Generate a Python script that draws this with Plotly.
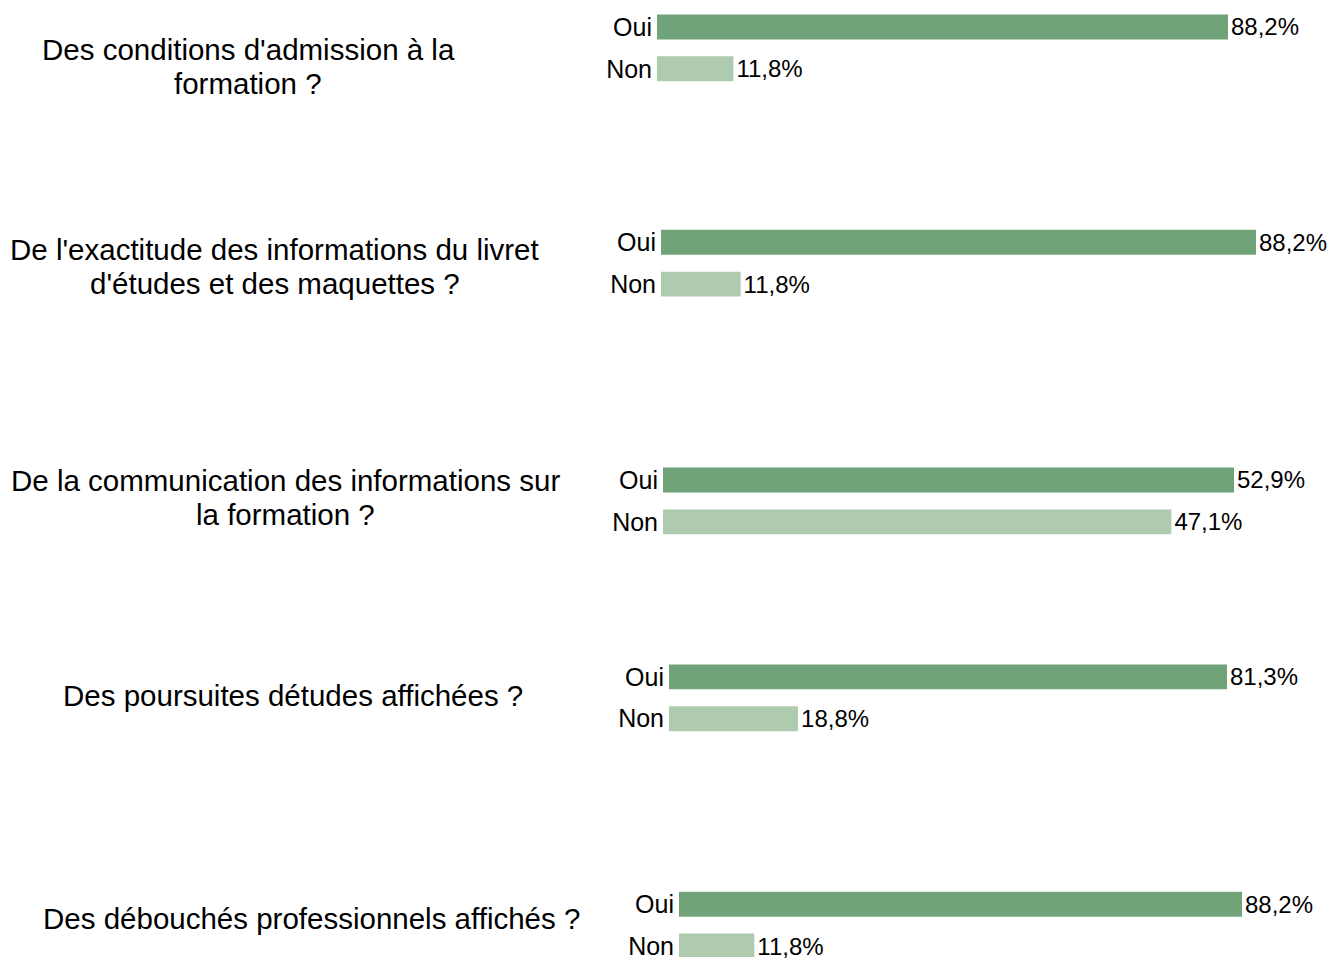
import plotly.graph_objects as go

# ---- data ----
questions = [
    ["Des conditions d'admission à la", "formation ?"],
    ["De l'exactitude des informations du livret", "d'études et des maquettes ?"],
    ["De la communication des informations sur", "la formation ?"],
    ["Des poursuites détudes affichées ?"],
    ["Des débouchés professionnels affichés ?"],
]
categories = ["Oui", "Non"]
oui = [88.2, 88.2, 52.9, 81.3, 88.2]
non = [11.8, 11.8, 47.1, 18.8, 11.8]

# ---- layout (pixels, page coordinates) ----
W, H = 1329, 960
bar_start_px = [657, 661, 663, 669, 679]
bar_end_px = [1228, 1256, 1234, 1227, 1242]
oui_center_px = [27, 243, 481.5, 679, 907]
row_gap = 42
bar_h = 25
q_center_x = [248, 274.5, 285, 292.5, 311]
q_line_y = [[50, 84], [250, 284], [482, 516], [698], [921]]

dark = "#70A478"
light = "#AFCBAF"
FONT = "Liberation Sans, Arial, sans-serif"

def fmt(v):
    return f"{v:.1f}".replace(".", ",") + "%"

fig = go.Figure()
layout = dict(
    width=W, height=H, margin=dict(l=0, r=0, t=0, b=0),
    paper_bgcolor="white", plot_bgcolor="white", showlegend=False,
    font=dict(family=FONT, color="#000000"),
)
annotations = []
for i in range(5):
    vals = [oui[i], non[i]]
    xa = "x" if i == 0 else f"x{i+1}"
    ya = "y" if i == 0 else f"y{i+1}"
    fig.add_trace(go.Bar(
        x=vals, y=categories, orientation="h",
        marker=dict(color=[dark, light], line=dict(width=0)),
        text=[fmt(v) for v in vals], textposition="outside",
        textfont=dict(size=24, family=FONT, color="#000000"),
        constraintext="none",
        cliponaxis=False, xaxis=xa, yaxis=ya, hoverinfo="skip",
        width=bar_h / row_gap,
    ))
    oc = oui_center_px[i]
    top_px = max(oc - row_gap / 2, 0)
    non_c = oc + row_gap
    bot_px = min(non_c + row_gap / 2, H)
    top_val = 0 - (oc - top_px) / row_gap
    bot_val = 1 + (bot_px - non_c) / row_gap
    xkey = "xaxis" if i == 0 else f"xaxis{i+1}"
    ykey = "yaxis" if i == 0 else f"yaxis{i+1}"
    layout[xkey] = dict(
        domain=[bar_start_px[i] / W, bar_end_px[i] / W],
        range=[0, max(vals)], anchor=ya,
        showgrid=False, zeroline=False, showticklabels=False, showline=False,
        fixedrange=True,
    )
    layout[ykey] = dict(
        domain=[1 - bot_px / H, 1 - top_px / H],
        range=[bot_val, top_val], anchor=xa, type="category",
        showgrid=False, zeroline=False, showline=False, ticks="",
        tickfont=dict(size=25, family=FONT, color="#000000"),
        ticklabelstandoff=4, fixedrange=True,
    )
    for line, py in zip(questions[i], q_line_y[i]):
        annotations.append(dict(
            text=line, x=q_center_x[i] / W, y=1 - py / H,
            xref="paper", yref="paper", xanchor="center", yanchor="middle",
            showarrow=False, font=dict(size=29.5, family=FONT, color="#000000"),
        ))
layout["annotations"] = annotations
fig.update_layout(**layout)
fig.write_html(
    "out.html",
    config={"displayModeBar": False, "staticPlot": True},
    post_script=(
        "document.documentElement.style.overflow='hidden';"
        "document.documentElement.style.height='960px';"
        "document.body.style.margin='0';"
        "document.body.style.height='960px';"
        "document.body.style.overflow='hidden';"
    ),
)
